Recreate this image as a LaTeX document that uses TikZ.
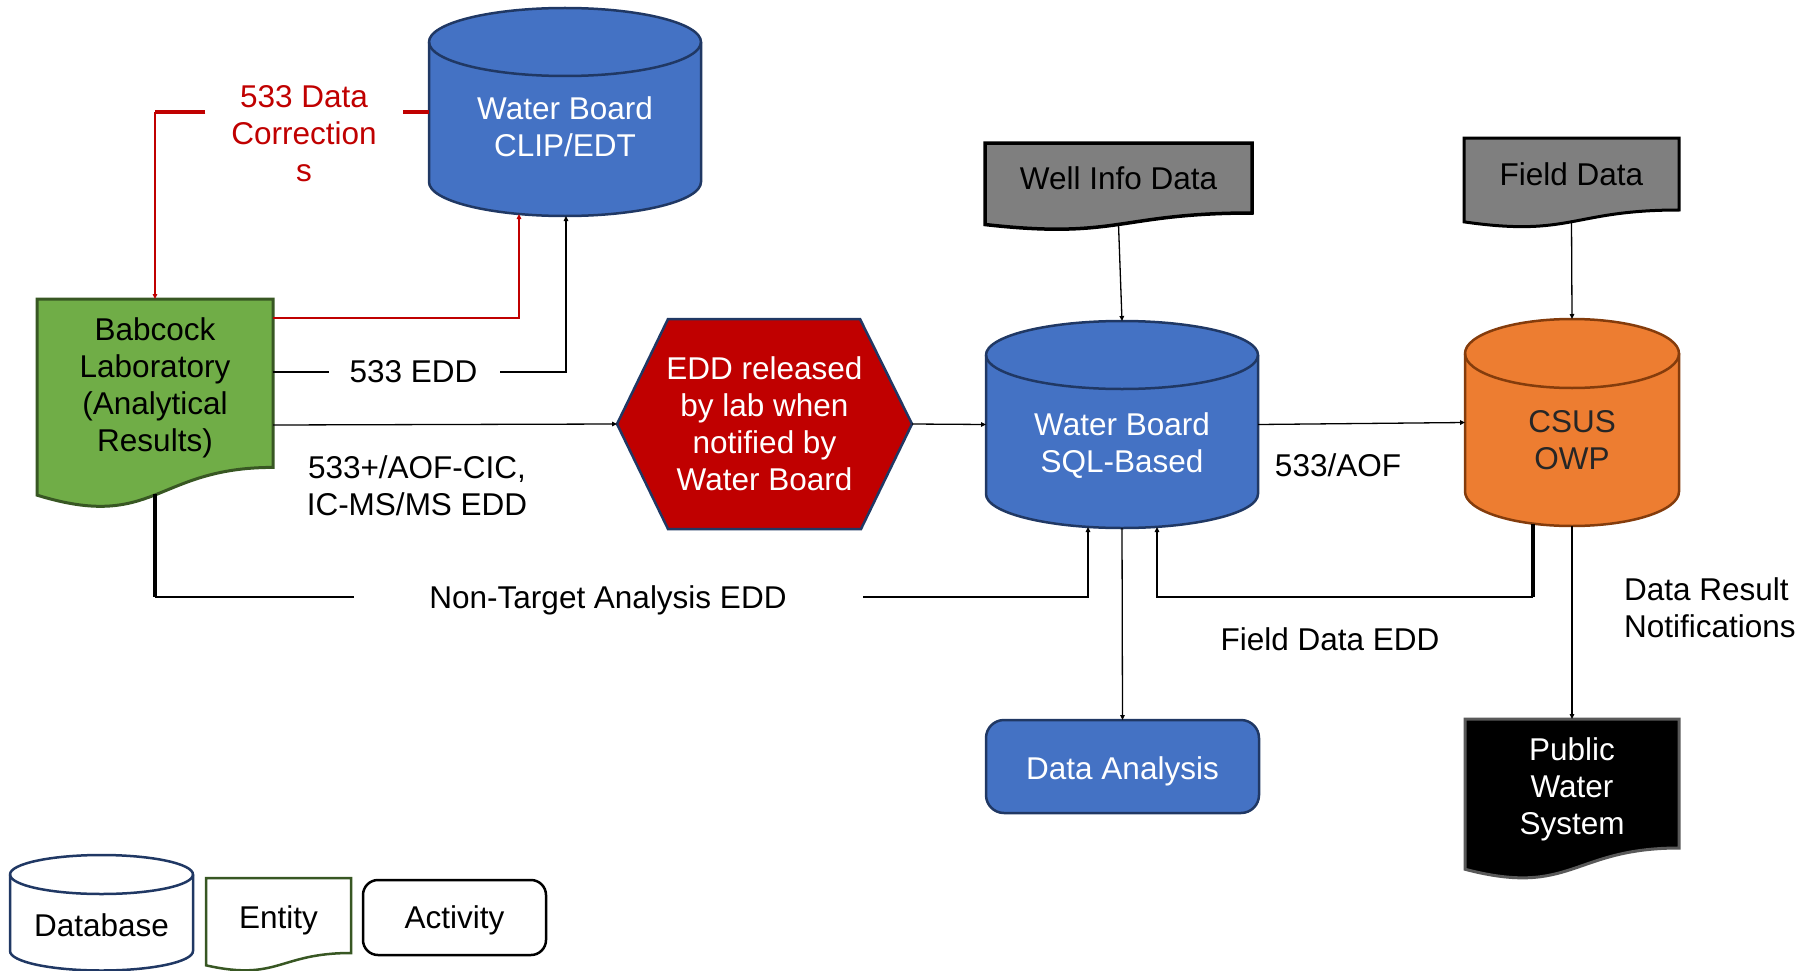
\documentclass[tikz,border=0pt]{standalone}
\usepackage{fontspec}
\setmainfont{Liberation Sans}
\usetikzlibrary{arrows.meta,calc,backgrounds}
\definecolor{wbblue}{HTML}{4472C4}
\definecolor{navy}{HTML}{203864}
\definecolor{lgreen}{HTML}{70AD47}
\definecolor{dgreen}{HTML}{385723}
\definecolor{dred}{HTML}{C00000}
\definecolor{orng}{HTML}{ED7D31}
\definecolor{brwn}{HTML}{843C0C}
\definecolor{gry}{HTML}{7F7F7F}
\definecolor{dgry}{HTML}{595959}
\definecolor{txtdark}{HTML}{262626}
% cylinder: style, cx, top, rx, ry, side bottom
\newcommand{\dbcyl}[6]{%
  \path[#1] (#2-#4,#3+#5) -- (#2-#4,#6) arc[start angle=180,end angle=360,x radius=#4pt,y radius=#5pt] -- (#2+#4,#3+#5) arc[start angle=0,end angle=180,x radius=#4pt,y radius=#5pt] -- cycle;
  \path[#1,fill=none] (#2-#4,#3+#5) arc[start angle=180,end angle=360,x radius=#4pt,y radius=#5pt];
}
% document shape around node: style, node, full height
\newcommand{\docpath}[3]{%
  \path[#1] (#2.north west) -- (#2.north east) -- (#2.south east) .. controls (#2.south) and ($(#2.south)+(0,0.3055*#3)$) .. ($(#2.south west)+(0,0.132*#3)$) -- cycle;
}
\begin{document}
\begin{tikzpicture}[x=1pt,y=-1pt,
  font=\fontsize{31.5}{37}\selectfont,
  every node/.style={inner sep=0pt,outer sep=0pt,align=center},
  conn/.style={line width=1.3pt,draw=black},
  arr/.style={conn,-{Triangle[length=5pt,width=4.5pt]}},
  redconn/.style={line width=1.3pt,draw=dred},
  redarr/.style={redconn,-{Triangle[length=5pt,width=4.5pt]}},
  heavy/.style={line width=4.5pt,draw=black},
  redheavy/.style={line width=4.5pt,draw=dred},
]
\useasboundingbox (0,0) rectangle (1819,971);

% ---- nodes ----
\node[minimum width=272pt,minimum height=208pt] (clip) at (565,112) {};
\node[text=white] (clipt) at (565,126.5) {Water Board\\CLIP/EDT};

\node[minimum width=236pt,minimum height=168.4pt,anchor=north] (bab) at (155,299) {};
\node (babt) at (155,388) {Babcock\\Laboratory\\(Analytical\\Results)};

\node[minimum width=295pt,minimum height=210pt,text=white] (hex) at (764.5,424) {EDD released\\by lab when\\notified by\\Water Board};

\node[minimum width=267pt,minimum height=70pt,anchor=north] (well) at (1118.5,143) {Well Info Data};
\node[minimum width=215pt,minimum height=72pt,anchor=north] (field) at (1571.5,138) {Field Data};

\node[minimum width=272pt,minimum height=207pt] (sql) at (1122,424.5) {};
\node[text=white] (sqlt) at (1122,445.5) {Water Board\\SQL-Based};

\node[minimum width=214pt,minimum height=207pt] (csus) at (1572,422.5) {};
\node[text=txtdark] (csust) at (1572,440) {CSUS\\OWP};

\node[draw=navy,fill=wbblue,line width=2.5pt,rounded corners=18pt,minimum width=273pt,minimum height=93pt] (da) at (1122.5,766.5) {};
\node[text=white] (dat) at (1122.5,771.5) {Data Analysis};

\node[minimum width=214pt,minimum height=129pt,anchor=north] (pws) at (1572,719) {};
\node[text=white] (pwst) at (1572,789.5) {Public\\Water\\System};

% legend
\node[minimum width=183pt,minimum height=116pt] (ldb) at (101.5,913) {};
\node (ldbt) at (101.5,925) {Database};
\node[minimum width=145pt,minimum height=75pt,anchor=north] (ent) at (278.5,878) {};
\node (entt) at (278.5,920) {Entity};
\node[draw=black,line width=2.5pt,rounded corners=15pt,minimum width=183pt,minimum height=75pt] (act) at (454.5,917.5) {};
\node (actt) at (454.5,920) {Activity};

% labels
\node[text=dred] (corr) at (304,134) {533 Data\\Correction\\s};
\node (l533) at (413.5,372) {533 EDD};
\node (lcic) at (417,486) {533+/AOF-CIC,\\IC-MS/MS EDD};
\node (lnt) at (608,600) {Non-Target Analysis EDD};
\node (l533aof) at (1338,465) {533/AOF};
\node (lfde) at (1330,639) {Field Data EDD};
\node[align=left,anchor=west] (ldrn) at (1624,608) {Data Result\\Notifications};

% ---- shapes (background) ----
\begin{scope}[on background layer]
  \dbcyl{fill=wbblue,draw=navy,line width=2.5pt}{565}{8}{136}{34}{182}
  \dbcyl{fill=wbblue,draw=navy,line width=2.5pt}{1122}{321}{136}{34}{494}
  \dbcyl{fill=orng,draw=brwn,line width=2.5pt}{1572}{319}{107}{34.5}{491.5}
  \dbcyl{fill=white,draw=navy,line width=2.5pt}{101.5}{855}{91.5}{19.5}{951}
  \docpath{fill=lgreen,draw=dgreen,line width=3pt}{bab}{210}
  \docpath{fill=gry,draw=black,line width=3.5pt}{well}{87.3}
  \docpath{fill=gry,draw=black,line width=3pt}{field}{89.8}
  \docpath{fill=black,draw=dgry,line width=3pt}{pws}{161}
  \docpath{fill=white,draw=dgreen,line width=2.5pt}{ent}{93.5}
  \path[fill=dred,draw=navy,line width=2.5pt] (hex.west) -- ($(hex.north west)+(51,0)$) -- ($(hex.north east)+(-52,0)$) -- (hex.east) -- ($(hex.south east)+(-51,0)$) -- ($(hex.south west)+(51,0)$) -- cycle;
\end{scope}

% ---- connectors ----
\coordinate (rc) at (bab.north |- clip.west);
\draw[redheavy] (clip.west) -- ($(corr.east |- clip.west)+(26,0)$);
\draw[redheavy] ($(corr.west |- clip.west)+(-26,0)$) -- (rc);
\draw[redarr] (rc) -- (bab.north);
\draw[redarr] ($(bab.north east)+(0,19)$) -| ($(clip.south)+(-46,-2)$);

\draw[conn] (bab.east |- l533) -- ($(l533.west)+(-21,0)$);
\draw[arr] ($(l533.east)+(23,0)$) -| ($(clip.south)+(1,0)$);

\draw[arr] ($(bab.north east)+(0,126)$) -- (hex.west);
\draw[arr] (hex.east) -- (sql.west);

\coordinate (nty) at (0,597);
\draw[heavy] ($(bab.south)+(0,27)$) -- (bab.south |- nty);
\draw[conn] (bab.south |- nty) -- ($(lnt.center |- nty)+(-254,0)$);
\draw[arr] ($(lnt.center |- nty)+(255,0)$) -| ($(sql.south)+(-34,-1)$);

\draw[arr] (sql.south) -- (da.north);

\coordinate (cb) at ($(csus.south)+(-39,-2)$);
\draw[heavy] (cb) -- (cb |- nty);
\draw[arr] (cb |- nty) -| ($(sql.south)+(35,-1)$);

\draw[arr] (csus.south) -- (pws.north);
\draw[arr] (sql.east) -- (csus.west);
\draw[arr] ($(well.south)+(0,11.5)$) -- (sql.north);
\draw[arr] ($(field.south)+(0,12)$) -- (csus.north);
\end{tikzpicture}
\end{document}
